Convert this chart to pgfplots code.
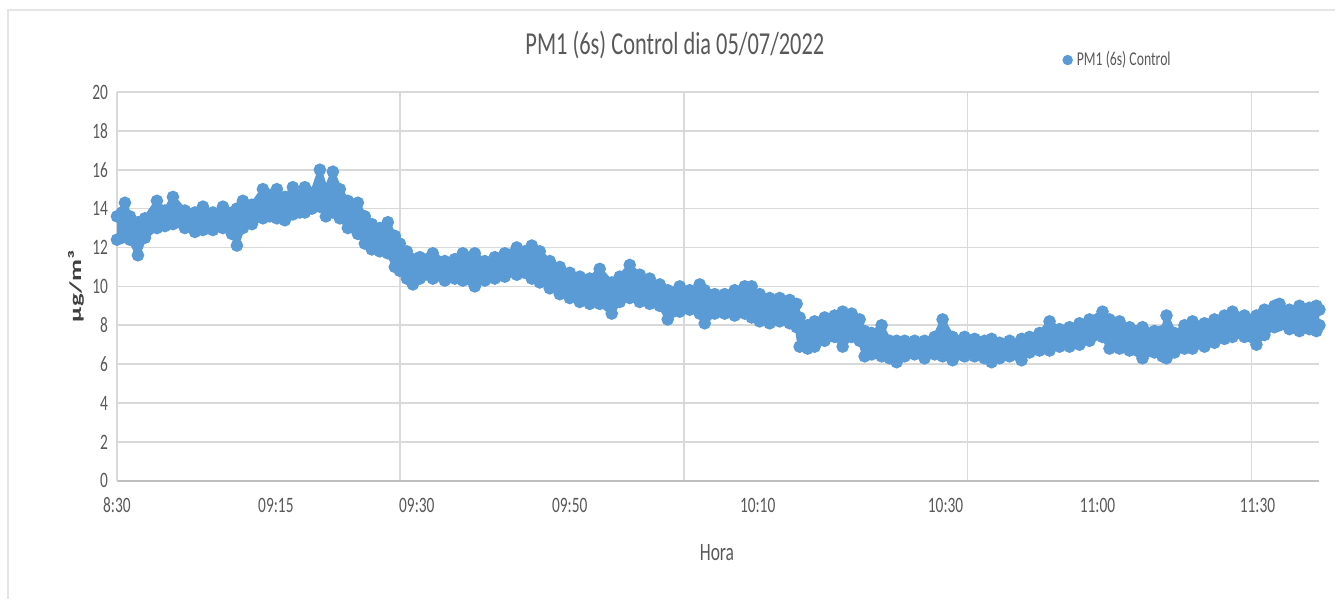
\documentclass[border=0pt]{standalone}
\usepackage{fontspec}
\setmainfont{Carlito}[FakeStretch=0.7]
\newfontfamily\ylfont{Carlito}
\usepackage{graphicx}
\usepackage{pgfplots}
\pgfplotsset{compat=1.18}
\usepgfplotslibrary{fillbetween}
\definecolor{xlblue}{RGB}{91,155,213}
\definecolor{xlgrid}{RGB}{217,217,217}
\definecolor{xlaxis}{RGB}{191,191,191}
\definecolor{xltext}{RGB}{89,89,89}
\definecolor{xllabel}{RGB}{64,64,64}

% band of the 6 s readings: upper and lower edge (x = position along the time axis)
\pgfplotstableread{
x y
0 13.6
5 13.8
8 14.3
13 13.6
21 13.3
28 13.5
40 14.4
48 13.9
56 14.6
68 13.9
78 13.8
86 14.1
96 13.8
106 14.1
115 13.8
120 14.0
126 14.4
135 14.2
146 15.0
153 14.7
160 15.0
168 14.6
176 15.1
183 14.7
188 15.1
195 14.8
203 16.0
209 15.0
216 15.9
223 15.0
231 14.4
241 14.3
248 13.6
255 13.2
263 13.0
271 13.3
278 12.6
283 12.2
290 11.8
296 11.4
303 11.5
316 11.7
328 11.3
338 11.4
346 11.7
358 11.7
368 11.3
378 11.5
388 11.7
400 12.0
408 11.8
415 12.1
423 11.8
433 11.3
443 11.0
453 10.7
463 10.5
473 10.4
483 10.9
495 10.2
503 10.5
513 11.1
523 10.6
533 10.4
543 10.1
551 9.8
563 10.0
573 9.8
583 10.1
588 9.8
598 9.6
608 9.6
618 9.8
628 10.0
635 10.0
643 9.6
653 9.4
663 9.4
673 9.3
680 9.1
683 8.4
691 8.0
698 8.2
708 8.4
718 8.5
726 8.7
735 8.6
743 8.3
748 7.7
755 7.6
765 8.0
773 7.2
780 7.2
788 7.2
798 7.2
808 7.2
818 7.4
826 8.3
836 7.4
848 7.4
858 7.3
868 7.2
875 7.3
883 7.1
893 7.2
905 7.3
913 7.4
923 7.6
933 8.2
943 7.8
953 7.9
963 8.1
973 8.3
986 8.7
993 8.3
1003 8.2
1013 7.9
1026 7.9
1038 7.7
1046 7.7
1050 8.5
1058 7.6
1068 8.0
1076 8.2
1088 8.1
1098 8.3
1108 8.5
1116 8.7
1128 8.5
1140 8.5
1148 8.8
1158 9.0
1163 9.1
1173 8.8
1183 9.0
1193 8.9
1200 9.0
1203 8.8
}\bandhi
\pgfplotstableread{
x y
0 12.4
5 12.5
8 12.6
13 12.4
21 11.6
28 12.5
40 13.0
48 13.1
56 13.2
68 13.0
78 12.8
86 12.9
96 12.9
106 13.0
115 12.7
120 12.1
126 13.0
135 13.2
146 13.5
153 13.6
160 13.5
168 13.4
176 13.7
183 13.8
188 13.8
195 14.0
203 14.1
209 13.6
216 13.8
223 13.5
231 13.0
241 12.7
248 12.2
255 11.9
263 11.8
271 11.7
278 11.0
283 10.8
290 10.4
296 10.1
303 10.4
316 10.4
328 10.3
338 10.4
346 10.3
358 10.0
368 10.3
378 10.4
388 10.5
400 10.6
408 10.7
415 10.4
423 10.2
433 9.9
443 9.6
453 9.4
463 9.2
473 9.1
483 9.1
495 8.6
503 9.2
513 9.4
523 9.2
533 9.1
543 9.0
551 8.3
563 8.7
573 8.8
583 8.6
588 8.1
598 8.6
608 8.6
618 8.5
628 8.6
635 8.4
643 8.2
653 8.1
663 8.2
673 8.1
680 7.9
683 6.9
691 6.8
698 6.9
708 7.2
718 7.4
726 6.9
735 7.4
743 7.2
748 6.4
755 6.5
765 6.4
773 6.3
780 6.1
788 6.4
798 6.5
808 6.3
818 6.5
826 6.4
836 6.2
848 6.4
858 6.4
868 6.3
875 6.1
883 6.3
893 6.4
905 6.2
913 6.6
923 6.7
933 6.7
943 6.9
953 6.9
963 7.0
973 7.2
986 7.4
993 6.8
1003 6.8
1013 6.7
1026 6.3
1038 6.6
1046 6.4
1050 6.3
1058 6.6
1068 6.8
1076 6.8
1088 6.9
1098 7.1
1108 7.3
1116 7.4
1128 7.4
1140 7.0
1148 7.5
1158 7.9
1163 8.0
1173 7.8
1183 7.7
1193 7.8
1200 7.7
1203 8.0
}\bandlo

\begin{document}
\begin{tikzpicture}
\path (0,0) rectangle (668pt,299.5pt);
\draw[gray!20, line width=0.6pt] (4pt,0) -- (4pt,294.5pt) -- (668pt,294.5pt);
\begin{axis}[
  at={(58.5pt,59pt)}, anchor=south west,
  scale only axis, width=601.5pt, height=194.5pt,
  xmin=0, xmax=1203, ymin=0, ymax=20,
  axis x line=bottom, axis y line=left,
  x axis line style={-, draw=xlaxis, line width=0.8pt},
  y axis line style={-, draw=xlgrid, line width=0.8pt},
  major tick length=0pt,
  ytick={0,2,...,20},
  ymajorgrids, grid style={xlgrid, line width=0.8pt},
  xtick={0,159,300,453,641,829,981,1141},
  xticklabels={8:30,09:15,09:30,09:50,10:10,10:30,11:00,11:30},
  extra x ticks={283,567,851,1135}, extra x tick labels={},
  extra x tick style={grid=major},
  tick label style={font=\fontsize{11}{12}\selectfont, text=xltext},
  /pgf/number format/assume math mode=true,
  xticklabel style={yshift=-5pt},
  yticklabel style={xshift=-1pt},
  title={PM1 (6s) Control dia 05/07/2022},
  title style={at={(0.464,1.09)}, anchor=center, font=\fontsize{16}{18}\selectfont, text=xltext},
  xlabel={Hora},
  xlabel style={at={(0.499,-0.185)}, anchor=center, font=\fontsize{12.5}{14}\selectfont, text=xltext},
  ylabel={\scalebox{1}[0.62]{µg/m³}},
  ylabel style={at={(-0.034,0.50)}, anchor=center, font=\ylfont\bfseries\fontsize{13.5}{15}\selectfont, text=xllabel},
  legend style={at={(0.786,1.082)}, anchor=west, draw=none, fill=none,
    font=\fontsize{9.8}{11}\selectfont, text=xltext, inner sep=0pt},
  legend image code/.code={\fill[xlblue] (0.12cm,0cm) circle (2.4pt);},
]
\addplot[name path=up, xlblue, line width=2pt, mark=*, mark size=2.1pt, forget plot] table {\bandhi};
\addplot[name path=lo, xlblue, line width=2pt, mark=*, mark size=2.1pt, forget plot] table {\bandlo};
\addplot[xlblue, draw=none, forget plot] fill between[of=up and lo];
\addlegendimage{only marks, mark=*, xlblue}
\addlegendentry{PM1 (6s) Control}
\end{axis}
\end{tikzpicture}
\end{document}
